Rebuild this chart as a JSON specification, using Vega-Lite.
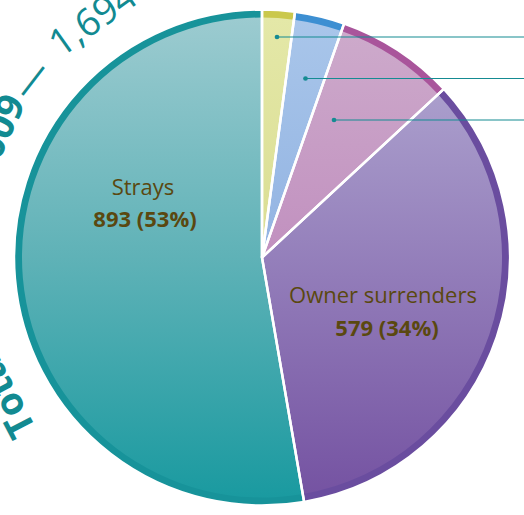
{
  "$schema": "https://vega.github.io/schema/vega-lite/v6.json",
  "width": 524,
  "height": 515,
  "autosize": {"type": "none"},
  "padding": 0,
  "background": "white",
  "config": {"view": {"stroke": null}},
  "data": {
    "values": [
      {"category": "Returned", "count": 36, "idx": 1},
      {"category": "Transferred", "count": 55, "idx": 2},
      {"category": "Seized", "count": 131, "idx": 3},
      {"category": "Owner surrenders", "count": 579, "idx": 4},
      {"category": "Strays", "count": 893, "idx": 5}
    ]
  },
  "layer": [
    {
      "mark": {"type": "arc", "outerRadius": 248},
      "encoding": {
        "theta": {"field": "count", "type": "quantitative", "stack": true},
        "order": {"field": "idx", "type": "quantitative"},
        "fill": {
          "field": "category",
          "type": "nominal",
          "scale": {
            "domain": ["Returned", "Transferred", "Seized", "Owner surrenders", "Strays"],
            "range": ["#cac84c", "#3d8fd2", "#a9559b", "#6a4d9f", "#17939a"]
          },
          "legend": null
        }
      }
    },
    {
      "mark": {"type": "arc", "outerRadius": 240},
      "encoding": {
        "theta": {"field": "count", "type": "quantitative", "stack": true},
        "order": {"field": "idx", "type": "quantitative"},
        "fill": {
          "condition": [
            {"test": "datum.category === 'Strays'", "value": {"gradient": "linear", "x1": 0, "y1": 0, "x2": 0, "y2": 1, "stops": [{"offset": 0, "color": "#9ccbd0"}, {"offset": 0.5, "color": "#5fb2b7"}, {"offset": 1, "color": "#1a9aa0"}]}},
            {"test": "datum.category === 'Owner surrenders'", "value": {"gradient": "linear", "x1": 0, "y1": 0, "x2": 0, "y2": 1, "stops": [{"offset": 0, "color": "#aa9ecc"}, {"offset": 1, "color": "#7553a2"}]}},
            {"test": "datum.category === 'Seized'", "value": {"gradient": "linear", "x1": 0, "y1": 0, "x2": 0, "y2": 1, "stops": [{"offset": 0, "color": "#cdaacb"}, {"offset": 1, "color": "#c190bf"}]}},
            {"test": "datum.category === 'Transferred'", "value": {"gradient": "linear", "x1": 0, "y1": 0, "x2": 0, "y2": 1, "stops": [{"offset": 0, "color": "#a9c6ea"}, {"offset": 1, "color": "#92b3e2"}]}}
          ],
          "value": {"gradient": "linear", "x1": 0, "y1": 0, "x2": 0, "y2": 1, "stops": [{"offset": 0, "color": "#e4e8a8"}, {"offset": 1, "color": "#dadd92"}]}
        }
      }
    },
    {
      "mark": {"type": "arc", "outerRadius": 248, "fillOpacity": 0, "stroke": "white", "strokeWidth": 2.5},
      "encoding": {
        "theta": {"field": "count", "type": "quantitative", "stack": true},
        "order": {"field": "idx", "type": "quantitative"}
      }
    },
    {
      "transform": [{"filter": "datum.idx <= 3"}],
      "mark": {"type": "rule", "color": "#158b92", "strokeWidth": 1.2},
      "encoding": {
        "x": {"field": "category", "type": "nominal", "scale": {"type": "point", "domain": ["Returned", "Transferred", "Seized"], "range": [277, 334], "padding": 0}, "axis": null},
        "x2": {"value": "width"},
        "y": {"field": "category", "type": "nominal", "scale": {"type": "point", "domain": ["Returned", "Transferred", "Seized"], "range": [37, 120], "padding": 0}, "axis": null}
      }
    },
    {
      "transform": [{"filter": "datum.idx <= 3"}],
      "mark": {"type": "point", "filled": true, "size": 22, "color": "#158b92", "opacity": 1},
      "encoding": {
        "x": {"field": "category", "type": "nominal", "scale": {"type": "point", "domain": ["Returned", "Transferred", "Seized"], "range": [277, 334], "padding": 0}, "axis": null},
        "y": {"field": "category", "type": "nominal", "scale": {"type": "point", "domain": ["Returned", "Transferred", "Seized"], "range": [37, 120], "padding": 0}, "axis": null}
      }
    },
    {
      "mark": {"type": "text", "radius": 134.6, "thetaOffset": 0.572, "font": "Open Sans", "fontSize": 22, "color": "#5a4810", "align": "center", "baseline": "alphabetic"},
      "encoding": {
        "theta": {"field": "count", "type": "quantitative", "stack": true},
        "order": {"field": "idx", "type": "quantitative"},
        "text": {"condition": {"test": "datum.category === 'Strays'", "field": "category"}, "value": ""}
      }
    },
    {
      "transform": [
        {"joinaggregate": [{"op": "sum", "field": "count", "as": "total"}]},
        {"calculate": "format(datum.count, ',') + ' (' + format(datum.count / datum.total, '.0%') + ')'", "as": "valueLabel"}
      ],
      "mark": {"type": "text", "radius": 121, "thetaOffset": 0.344, "font": "Open Sans", "fontSize": 22, "fontWeight": "bold", "color": "#5a4810", "align": "center", "baseline": "alphabetic"},
      "encoding": {
        "theta": {"field": "count", "type": "quantitative", "stack": true},
        "order": {"field": "idx", "type": "quantitative"},
        "text": {"condition": {"test": "datum.category === 'Strays'", "field": "valueLabel"}, "value": ""}
      }
    },
    {
      "mark": {"type": "text", "radius": 129.1, "thetaOffset": 0.03, "font": "Open Sans", "fontSize": 22, "color": "#5a4810", "align": "center", "baseline": "alphabetic"},
      "encoding": {
        "theta": {"field": "count", "type": "quantitative", "stack": true},
        "order": {"field": "idx", "type": "quantitative"},
        "text": {"condition": {"test": "datum.category === 'Owner surrenders'", "field": "category"}, "value": ""}
      }
    },
    {
      "transform": [
        {"joinaggregate": [{"op": "sum", "field": "count", "as": "total"}]},
        {"calculate": "format(datum.count, ',') + ' (' + format(datum.count / datum.total, '.0%') + ')'", "as": "valueLabel"}
      ],
      "mark": {"type": "text", "radius": 147.9, "thetaOffset": 0.237, "font": "Open Sans", "fontSize": 22, "fontWeight": "bold", "color": "#5a4810", "align": "center", "baseline": "alphabetic"},
      "encoding": {
        "theta": {"field": "count", "type": "quantitative", "stack": true},
        "order": {"field": "idx", "type": "quantitative"},
        "text": {"condition": {"test": "datum.category === 'Owner surrenders'", "field": "valueLabel"}, "value": ""}
      }
    },
    {
      "data": {"values": [{}]},
      "mark": {"type": "text", "text": "Total", "theta": 4.232, "radius": 279, "angle": -117.5, "font": "Open Sans", "fontSize": 38, "fontWeight": "bold", "color": "#128a91", "align": "center", "baseline": "alphabetic"}
    },
    {
      "data": {"values": [{}]},
      "mark": {"type": "text", "text": "2009", "theta": 5.140, "radius": 279, "angle": -65.5, "font": "Open Sans", "fontSize": 38, "fontWeight": "bold", "color": "#128a91", "align": "center", "baseline": "alphabetic"}
    },
    {
      "data": {"values": [{}]},
      "mark": {"type": "text", "text": "—", "theta": 5.369, "radius": 279, "angle": -52.4, "font": "Open Sans", "fontSize": 38, "fontWeight": "normal", "color": "#128a91", "align": "center", "baseline": "alphabetic"}
    },
    {
      "data": {"values": [{}]},
      "mark": {"type": "text", "text": "1,694", "theta": 5.665, "radius": 279, "angle": -35.4, "font": "Open Sans", "fontSize": 38, "fontWeight": "normal", "color": "#128a91", "align": "center", "baseline": "alphabetic"}
    }
  ]
}
